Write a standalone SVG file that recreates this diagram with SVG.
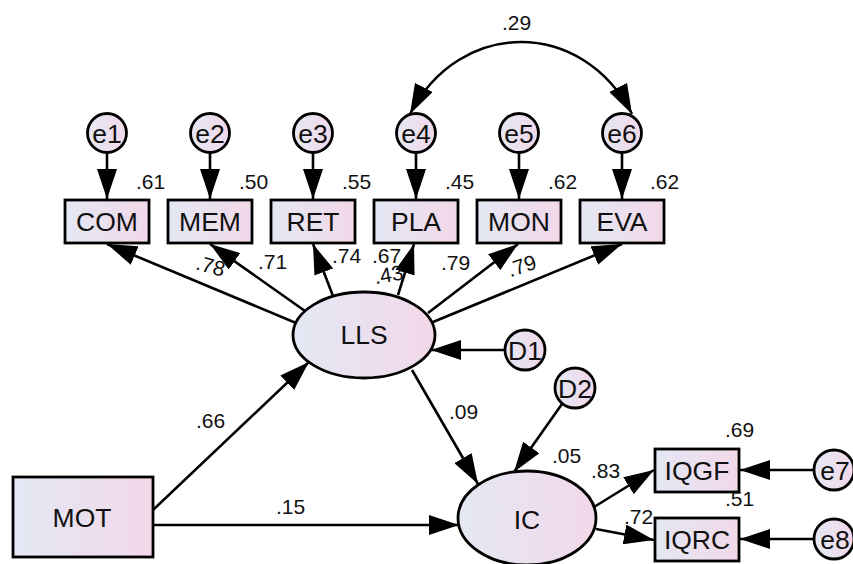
<svg xmlns="http://www.w3.org/2000/svg" width="853" height="564" viewBox="0 0 853 564">
<defs>
<linearGradient id="g" x1="0" y1="0" x2="1" y2="0">
<stop offset="0" stop-color="#e4e8f4"/>
<stop offset="1" stop-color="#f2d8e9"/>
</linearGradient>
<marker id="ah" viewBox="0 0 30 20" refX="30" refY="10" markerWidth="30" markerHeight="20" markerUnits="userSpaceOnUse" orient="auto-start-reverse">
<path d="M0,0 L30,10 L0,20 z" fill="#000"/>
</marker>
<style>
.n{fill:url(#g);stroke:#000;stroke-width:2.8}
.t{font-family:"Liberation Sans",Arial,sans-serif;font-size:26.5px;text-anchor:middle;fill:#111}
.v{font-family:"Liberation Sans",Arial,sans-serif;font-size:21px;fill:#111}
.c{fill:none;stroke:#000;stroke-width:2.6;marker-end:url(#ah)}
</style>
</defs>
<rect width="853" height="564" fill="#fff"/>
<g id="connectors">
<path class="c" d="M107,153 L107,199"/>
<path class="c" d="M210,153 L210,199"/>
<path class="c" d="M313,153 L313,199"/>
<path class="c" d="M416,153 L416,199"/>
<path class="c" d="M519,153 L519,199"/>
<path class="c" d="M622,153 L622,199"/>
<path class="c" d="M410,114 C460,18 582,18 632,114" style="marker-start:url(#ah)"/>
<path class="c" d="M296,323 L107,244"/>
<path class="c" d="M305,311 L210,244"/>
<path class="c" d="M333,296 L313,244"/>
<path class="c" d="M398,295 L414,244"/>
<path class="c" d="M428,313 L518,244"/>
<path class="c" d="M433,322 L622,244"/>
<path class="c" d="M153,510 L309,362"/>
<path class="c" d="M153,525 L459,525"/>
<path class="c" d="M412,370 L478,484"/>
<path class="c" d="M504,350 L431,350"/>
<path class="c" d="M562,404 L514,472"/>
<path class="c" d="M594,507 L654,470"/>
<path class="c" d="M596,529 L654,540"/>
<path class="c" d="M814,470 L740,470"/>
<path class="c" d="M814,539 L740,539"/>
</g>
<g id="e1"><circle class="n" cx="107" cy="133" r="19.5"/><text class="t" x="107" y="142.5">e1</text></g>
<g id="e2"><circle class="n" cx="210" cy="133" r="19.5"/><text class="t" x="210" y="142.5">e2</text></g>
<g id="e3"><circle class="n" cx="313" cy="133" r="19.5"/><text class="t" x="313" y="142.5">e3</text></g>
<g id="e4"><circle class="n" cx="416" cy="133" r="19.5"/><text class="t" x="416" y="142.5">e4</text></g>
<g id="e5"><circle class="n" cx="519" cy="133" r="19.5"/><text class="t" x="519" y="142.5">e5</text></g>
<g id="e6"><circle class="n" cx="622" cy="133" r="19.5"/><text class="t" x="622" y="142.5">e6</text></g>
<g id="COM"><rect class="n" x="65" y="200" width="84" height="43"/><text class="t" x="107" y="231">COM</text></g>
<g id="MEM"><rect class="n" x="168" y="200" width="84" height="43"/><text class="t" x="210" y="231">MEM</text></g>
<g id="RET"><rect class="n" x="271" y="200" width="84" height="43"/><text class="t" x="313" y="231">RET</text></g>
<g id="PLA"><rect class="n" x="374" y="200" width="84" height="43"/><text class="t" x="416" y="231">PLA</text></g>
<g id="MON"><rect class="n" x="477" y="200" width="84" height="43"/><text class="t" x="519" y="231">MON</text></g>
<g id="EVA"><rect class="n" x="580" y="200" width="84" height="43"/><text class="t" x="622" y="231">EVA</text></g>
<g id="LLS"><ellipse class="n" cx="364" cy="335" rx="71" ry="43"/><text class="t" x="364" y="344">LLS</text></g>
<g id="D1"><circle class="n" cx="525" cy="350" r="20"/><text class="t" x="525" y="359.5">D1</text></g>
<g id="D2"><circle class="n" cx="575" cy="388" r="20"/><text class="t" x="575" y="397.5">D2</text></g>
<g id="MOT"><rect class="n" x="13" y="477" width="140" height="80"/><text class="t" x="82" y="527">MOT</text></g>
<g id="IC"><ellipse class="n" cx="527" cy="518" rx="69" ry="47"/><text class="t" x="527" y="529">IC</text></g>
<g id="IQGF"><rect class="n" x="655" y="449" width="84" height="43"/><text class="t" x="697" y="480">IQGF</text></g>
<g id="IQRC"><rect class="n" x="655" y="518" width="84" height="43"/><text class="t" x="697" y="549">IQRC</text></g>
<g id="e7"><circle class="n" cx="834" cy="470" r="20"/><text class="t" x="835" y="479.5">e7</text></g>
<g id="e8"><circle class="n" cx="834" cy="539" r="20"/><text class="t" x="835" y="548.5">e8</text></g>
<g id="labels">
<text class="v" x="136" y="189">.61</text>
<text class="v" x="239" y="189">.50</text>
<text class="v" x="342" y="189">.55</text>
<text class="v" x="445" y="189">.45</text>
<text class="v" x="548" y="189">.62</text>
<text class="v" x="650" y="189">.62</text>
<text class="v" x="502" y="30">.29</text>
<text class="v" x="196" y="273" transform="rotate(15 210 266)">.78</text>
<text class="v" x="258" y="269">.71</text>
<text class="v" x="332" y="263">.74</text>
<text class="v" x="372" y="263">.67</text>
<text class="v" x="374" y="282" transform="rotate(-10 388 275)">.43</text>
<text class="v" x="441" y="270">.79</text>
<text class="v" x="507" y="273" transform="rotate(-18 522 265)">.79</text>
<text class="v" x="196" y="428">.66</text>
<text class="v" x="276" y="514">.15</text>
<text class="v" x="449" y="419">.09</text>
<text class="v" x="552" y="463">.05</text>
<text class="v" x="591" y="478">.83</text>
<text class="v" x="725" y="437">.69</text>
<text class="v" x="725" y="506">.51</text>
<text class="v" x="624" y="524">.72</text>
</g>
</svg>
